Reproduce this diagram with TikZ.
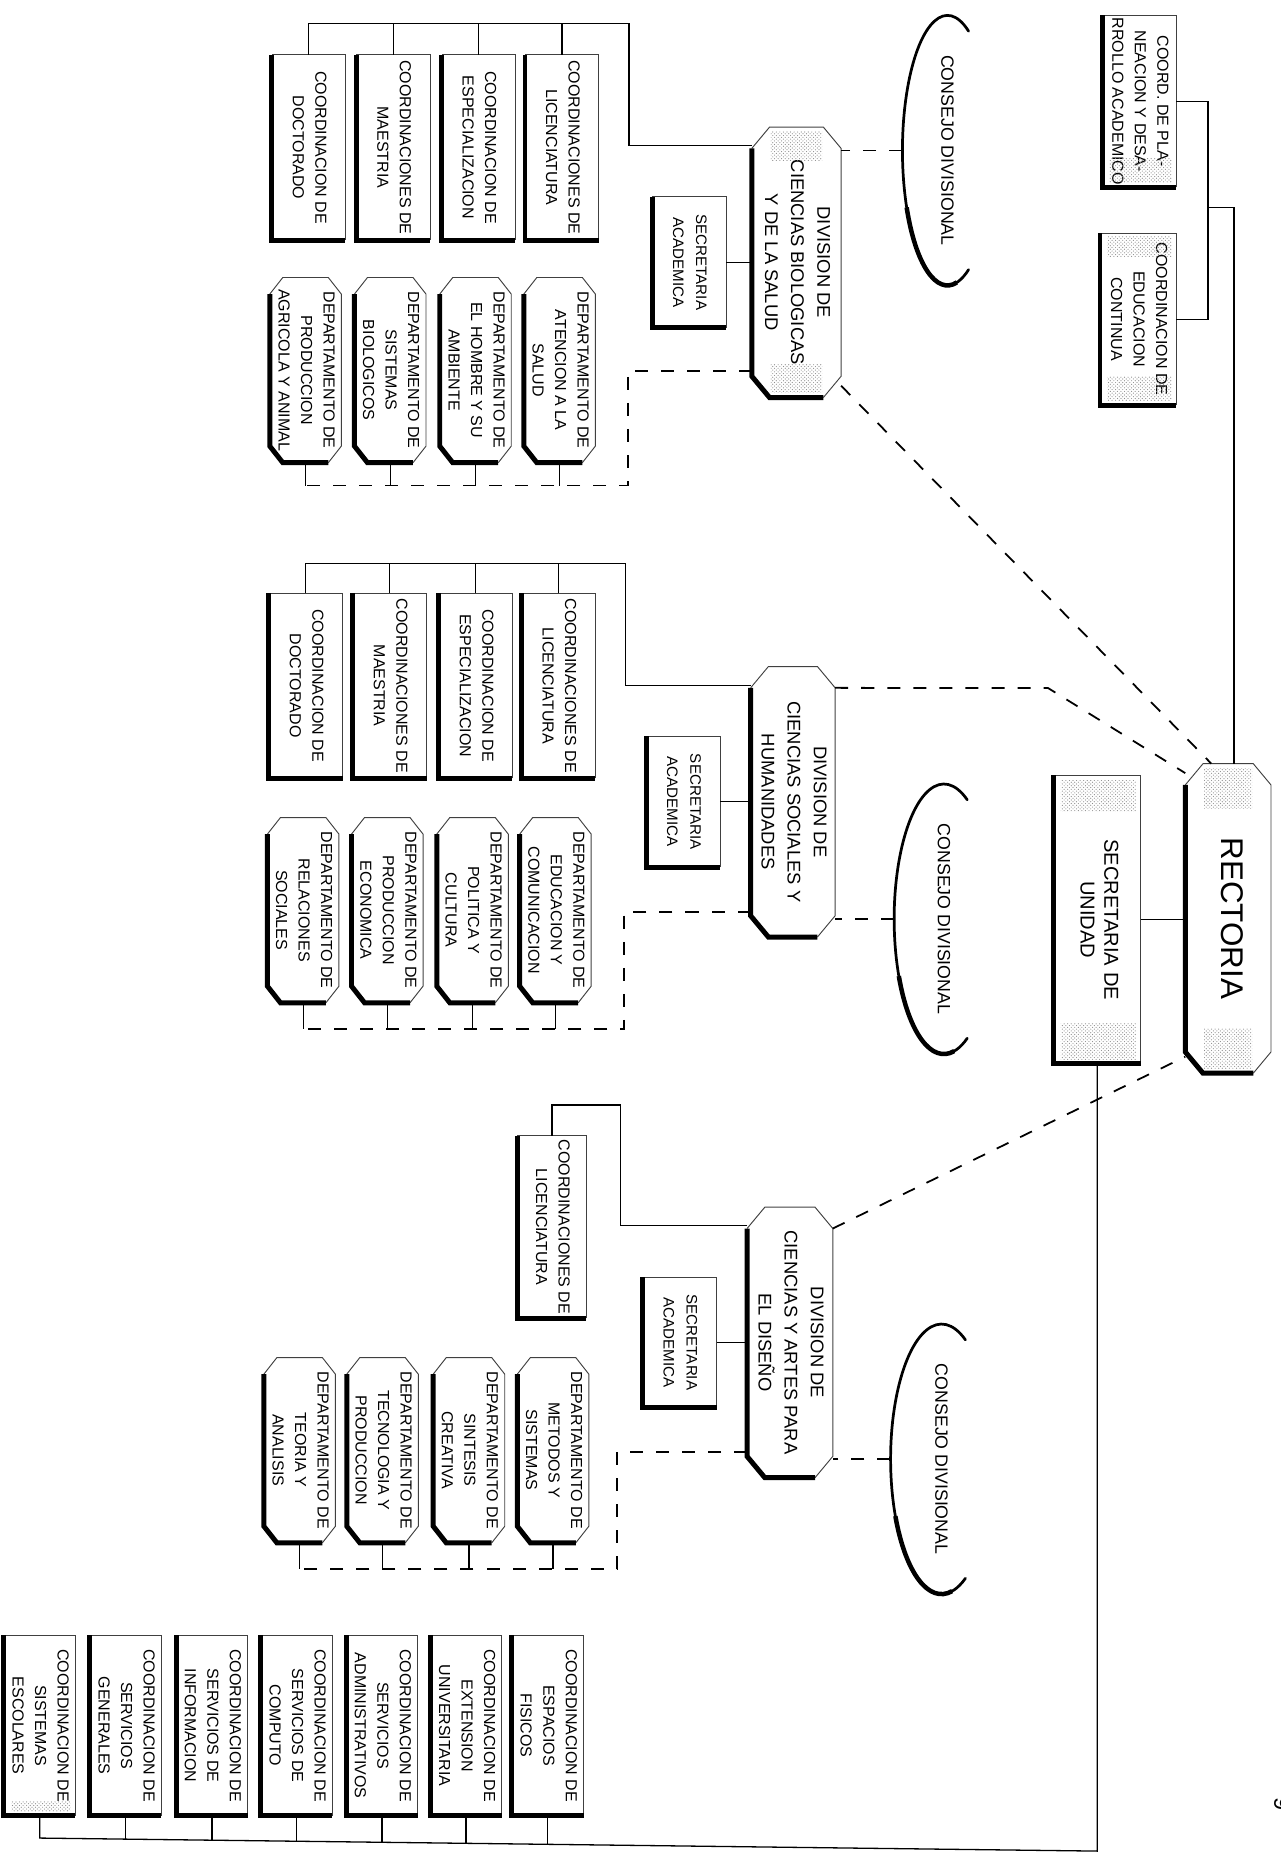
\documentclass[tikz,border=0pt]{standalone}
\usepackage{fontspec}
\setmainfont{Liberation Sans}
\usepackage{graphicx}
\usetikzlibrary{shapes.geometric,patterns}
\newcommand\rtxt[1]{\rotatebox{-90}{\begin{tabular}{@{}c@{}}#1\end{tabular}}}
\newcommand\drawcoordbox[1]{%
  \draw[thinline] (#1.south east) -- (#1.north east) -- (#1.north west);
  \draw[shadowline] (#1.north west) -- (#1.south west) -- (#1.south east);}
\newcommand\drawchambox[3]{%
  \draw[thinline] ([yshift=-#3]#1.north west) -- ([xshift=#2]#1.north west) -- ([xshift=-#2]#1.north east) -- ([yshift=-#3]#1.north east) -- ([yshift=#3]#1.south east) -- ([xshift=-#2]#1.south east);
  \draw[shadowline] ([xshift=-#2]#1.south east) -- ([xshift=#2]#1.south west) -- ([yshift=#3]#1.south west) -- ([yshift=-#3]#1.north west);}
\tikzset{
  x=1pt, y=1pt,
  box/.style={rectangle, inner sep=0pt, draw=none},
  smallbox/.style={box, minimum width=62pt, minimum height=156pt, font=\fontsize{13.5}{19}\selectfont},
  deptbox/.style={box, minimum width=60pt, minimum height=156pt, font=\fontsize{13.5}{19}\selectfont},
  divbox/.style={box, minimum width=73pt, minimum height=228pt, font=\fontsize{15.5}{22}\selectfont},
  secbox/.style={box, minimum width=62pt, minimum height=110pt, font=\fontsize{12.8}{19.5}\selectfont},
  consejo/.style={ellipse, inner sep=0pt, draw=none, font=\fontsize{15}{18}\selectfont},
  thinline/.style={line width=0.8pt, black!75},
  shadowline/.style={line width=4.2pt, line join=miter},
  conn/.style={line width=1.1pt},
  dconn/.style={line width=1.5pt, dash pattern=on 11pt off 11pt},
  consarc/.style={line width=2.3pt, line cap=round},
  speckle/.style={pattern=crosshatch dots, pattern color=black!45},
}
\begin{document}
\begin{tikzpicture}
\useasboundingbox (0,0) rectangle (1081.6,-1568);

% ---- top level ----
\node[box, minimum width=72pt, minimum height=261pt, font=\fontsize{26.5}{30}\selectfont] (rect) at (1037,-775.5) {\rtxt{RECTORIA}};
\node[box, minimum width=73pt, minimum height=243pt, font=\fontsize{17}{20}\selectfont] (secu) at (926.5,-776.5) {\rtxt{SECRETARIA DE\\UNIDAD}};
\node[smallbox, minimum height=145pt] (cpa) at (962,-85.5) {\rtxt{COORD. DE PLA-\\NEACION Y DESA-\\RROLLO ACADEMICO}};
\node[smallbox, minimum width=64pt, minimum height=145pt] (cec) at (961,-269.5) {\rtxt{COORDINACION DE\\EDUCACION\\CONTINUA}};

% ---- divisions ----
\node[divbox, minimum width=75pt] (div1) at (672.5,-221.5) {\rtxt{DIVISION DE\\CIENCIAS BIOLOGICAS\\Y DE LA SALUD}};
\node[divbox, minimum width=71pt] (div2) at (669.5,-677) {\rtxt{DIVISION DE\\CIENCIAS SOCIALES Y\\HUMANIDADES}};
\node[divbox, minimum width=72pt] (div3) at (667,-1133.5) {\rtxt{DIVISION DE\\CIENCIAS Y ARTES PARA\\EL DISEÑO}};

\node[secbox] (sa1) at (582,-221.5) {\rtxt{SECRETARIA\\ACADEMICA}};
\node[secbox] (sa2) at (577,-677) {\rtxt{SECRETARIA\\ACADEMICA}};
\node[secbox] (sa3) at (574,-1133.5) {\rtxt{SECRETARIA\\ACADEMICA}};

\node[consejo, minimum width=76pt, minimum height=230pt] (cons1) at (800,-127) {\rotatebox{-90}{CONSEJO DIVISIONAL}};
\node[consejo, minimum width=84pt, minimum height=228pt] (cons2) at (797,-776) {\rotatebox{-90}{CONSEJO DIVISIONAL}};
\node[consejo, minimum width=86pt, minimum height=228pt] (cons3) at (795,-1232) {\rotatebox{-90}{CONSEJO DIVISIONAL}};

% ---- division 1 ----
\node[smallbox] (c11) at (474.5,-124.5) {\rtxt{COORDINACIONES DE\\LICENCIATURA}};
\node[smallbox] (c12) at (404,-124.5) {\rtxt{COORDINACION DE\\ESPECIALIZACION}};
\node[smallbox] (c13) at (332,-124.5) {\rtxt{COORDINACIONES DE\\MAESTRIA}};
\node[smallbox] (c14) at (260.5,-124.5) {\rtxt{COORDINACION DE\\DOCTORADO}};
\node[deptbox] (d11) at (472.5,-312.5) {\rtxt{DEPARTAMENTO DE\\ATENCION A LA\\SALUD}};
\node[deptbox] (d12) at (401.5,-312.5) {\rtxt{DEPARTAMENTO DE\\EL HOMBRE Y SU\\AMBIENTE}};
\node[deptbox] (d13) at (329.5,-312.5) {\rtxt{DEPARTAMENTO DE\\SISTEMAS\\BIOLOGICOS}};
\node[deptbox] (d14) at (258,-312.5) {\rtxt{DEPARTAMENTO DE\\PRODUCCION\\AGRICOLA Y ANIMAL}};

% ---- division 2 ----
\node[smallbox] (c21) at (471.5,-579) {\rtxt{COORDINACIONES DE\\LICENCIATURA}};
\node[smallbox] (c22) at (401.5,-579) {\rtxt{COORDINACION DE\\ESPECIALIZACION}};
\node[smallbox] (c23) at (329,-579) {\rtxt{COORDINACIONES DE\\MAESTRIA}};
\node[smallbox] (c24) at (258,-579) {\rtxt{COORDINACION DE\\DOCTORADO}};
\node[deptbox] (d21) at (469,-768.5) {\rtxt{DEPARTAMENTO DE\\EDUCACION Y\\COMUNICACION}};
\node[deptbox] (d22) at (399,-768.5) {\rtxt{DEPARTAMENTO DE\\POLITICA Y\\CULTURA}};
\node[deptbox] (d23) at (327,-768.5) {\rtxt{DEPARTAMENTO DE\\PRODUCCION\\ECONOMICA}};
\node[deptbox] (d24) at (256,-768.5) {\rtxt{DEPARTAMENTO DE\\RELACIONES\\SOCIALES}};

% ---- division 3 ----
\node[smallbox, minimum width=58pt, minimum height=154pt] (c31) at (466,-1036) {\rtxt{COORDINACIONES DE\\LICENCIATURA}};
\node[deptbox] (d31) at (467,-1224.5) {\rtxt{DEPARTAMENTO DE\\METODOS Y\\SISTEMAS}};
\node[deptbox] (d32) at (396,-1224.5) {\rtxt{DEPARTAMENTO DE\\SINTESIS\\CREATIVA}};
\node[deptbox] (d33) at (323,-1224.5) {\rtxt{DEPARTAMENTO DE\\TECNOLOGIA Y\\PRODUCCION}};
\node[deptbox] (d34) at (253,-1224.5) {\rtxt{DEPARTAMENTO DE\\TEORIA Y\\ANALISIS}};

% ---- unit coordinations (bottom) ----
\node[smallbox, minimum width=60pt, minimum height=152pt] (bc1) at (462.5,-1457) {\rtxt{COORDINACION DE\\ESPACIOS\\FISICOS}};
\node[smallbox, minimum width=60pt, minimum height=152pt] (bc2) at (393.5,-1457) {\rtxt{COORDINACION DE\\EXTENSION\\UNIVERSITARIA}};
\node[smallbox, minimum width=60pt, minimum height=152pt] (bc3) at (322.5,-1457) {\rtxt{COORDINACION DE\\SERVICIOS\\ADMINISTRATIVOS}};
\node[smallbox, minimum width=60pt, minimum height=152pt] (bc4) at (250.5,-1457) {\rtxt{COORDINACION DE\\SERVICIOS DE\\COMPUTO}};
\node[smallbox, minimum width=60pt, minimum height=152pt] (bc5) at (179,-1457) {\rtxt{COORDINACION DE\\SERVICIOS DE\\INFORMACION}};
\node[smallbox, minimum width=60pt, minimum height=152pt] (bc6) at (106,-1457) {\rtxt{COORDINACION DE\\SERVICIOS\\GENERALES}};
\node[smallbox, minimum width=60pt, minimum height=152pt] (bc7) at (33.5,-1457) {\rtxt{COORDINACION DE\\SISTEMAS\\ESCOLARES}};

\node[box, font=\fontsize{20}{22}\selectfont] (pg) at (1083,-1523) {\rotatebox{-90}{9}};

% ---- halftone speckle at box ends ----
\foreach \n/\h in {secu/-30pt}
  \fill[speckle] ([xshift=6pt,yshift=-4pt]\n.north west) rectangle ([xshift=-4pt,yshift=\h]\n.north east);
\foreach \n/\h in {rect/-38pt, div1/-28pt}
  \fill[speckle] ([xshift=16pt,yshift=-4pt]\n.north west) rectangle ([xshift=-16pt,yshift=\h]\n.north east);
\foreach \n/\h in {secu/34pt, cpa/24pt, cec/24pt, bc7/12pt}
  \fill[speckle] ([xshift=6pt,yshift=4pt]\n.south west) rectangle ([xshift=-4pt,yshift=\h]\n.south east);
\foreach \n/\h in {rect/38pt, div1/28pt}
  \fill[speckle] ([xshift=16pt,yshift=4pt]\n.south west) rectangle ([xshift=-16pt,yshift=\h]\n.south east);
\fill[speckle] ([xshift=6pt,yshift=-3pt]cec.north west) rectangle ([xshift=-4pt,yshift=-20pt]cec.north east);

% ---- box outlines ----
\foreach \n in {secu,cpa,cec,sa1,sa2,sa3,c11,c12,c13,c14,c21,c22,c23,c24,c31,bc1,bc2,bc3,bc4,bc5,bc6,bc7}
  {\drawcoordbox{\n}}
\foreach \n in {d11,d12,d13,d14,d21,d22,d23,d24,d31,d32,d33,d34}
  {\drawchambox{\n}{11pt}{14pt}}
\foreach \n in {div1,div2,div3,rect}
  {\drawchambox{\n}{15pt}{18pt}}

% consejo arcs
\foreach \n/\rx in {cons1/38,cons2/42,cons3/43} {
  \draw[consarc] (\n.center) ++(62:\rx pt and 114pt) arc[start angle=62, end angle=298, x radius=\rx pt, y radius=114pt];
  \draw[line width=3.8pt] (\n.center) ++(205:\rx pt and 114pt) arc[start angle=205, end angle=282, x radius=\rx pt, y radius=114pt];
}

% ---- connectors: rectoria ----
\coordinate (bx) at (1020,-175);
\coordinate (rx) at (1042,-175);
\draw[conn] (cpa.east) -- (cpa.east -| bx) -- (cec.east -| bx) -- (cec.east);
\draw[conn] (bx) -- (rx) -- (rect.north -| rx);
\draw[conn] (secu.east) -- (secu.east -| rect.west);
\coordinate (sp1) at (926.5,-1563);
\coordinate (sp7) at (33.5,-1552);
\draw[conn] (secu.south) -- (secu.south |- sp1) -- (bc7.south |- sp7) -- (bc7.south);
\draw[conn] (bc1.south) -- ++(0,-24.3);
\draw[conn] (bc2.south) -- ++(0,-23.4);
\draw[conn] (bc3.south) -- ++(0,-22.6);
\draw[conn] (bc4.south) -- ++(0,-21.7);
\draw[conn] (bc5.south) -- ++(0,-20.8);
\draw[conn] (bc6.south) -- ++(0,-19.9);

% divisions to rectoria (dashed)
\coordinate (b2) at (885,-581);
\draw[dconn] ([yshift=10pt]div1.south east) -- ([xshift=22pt]rect.north west);
\draw[dconn] ([yshift=-18pt]div2.north east) -- (b2) -- ([yshift=-8pt]rect.north west);
\draw[dconn] ([yshift=-18pt]div3.north east) -- ([yshift=14pt]rect.south west);

% divisions to consejos (dashed)
\draw[dconn] (cons1.west) -- (cons1.west -| div1.east);
\draw[dconn] (cons2.west) -- (cons2.west -| div2.east);
\draw[dconn] (cons3.west) -- (cons3.west -| div3.east);

% divisions to secretarias academicas
\draw[conn] (sa1.east) -- (sa1.east -| div1.west);
\draw[conn] (sa2.east) -- (sa2.east -| div2.west);
\draw[conn] (sa3.east) -- (sa3.east -| div3.west);

% division 1 buses
\coordinate (t1a) at (531,-123);
\coordinate (t1b) at (531,-20);
\draw[conn] (div1.west |- t1a) -- (t1a) -- (t1b) -- (c14.north |- t1b) -- (c14.north);
\foreach \n in {c11,c12,c13} \draw[conn] (\n.north) -- (\n.north |- t1b);
\coordinate (u1a) at (530,-313);
\coordinate (u1b) at (530,-410);
\draw[dconn] (div1.west |- u1a) -- (u1a) -- (u1b) -- (d14.south |- u1b);
\foreach \n in {d11,d12,d13,d14} \draw[conn] (\n.south) -- (\n.south |- u1b);

% division 2 buses
\coordinate (t2a) at (528,-579);
\coordinate (t2b) at (528,-476);
\draw[conn] (div2.west |- t2a) -- (t2a) -- (t2b) -- (c24.north |- t2b) -- (c24.north);
\foreach \n in {c21,c22,c23} \draw[conn] (\n.north) -- (\n.north |- t2b);
\coordinate (u2a) at (527,-770);
\coordinate (u2b) at (527,-869);
\draw[dconn] (div2.west |- u2a) -- (u2a) -- (u2b) -- (d24.south |- u2b);
\foreach \n in {d21,d22,d23,d24} \draw[conn] (\n.south) -- (\n.south |- u2b);

% division 3 buses
\coordinate (t3a) at (524,-1035);
\coordinate (t3b) at (524,-933);
\draw[conn] (div3.west |- t3a) -- (t3a) -- (t3b) -- (c31.north |- t3b) -- (c31.north);
\coordinate (u3a) at (521,-1226);
\coordinate (u3b) at (521,-1325);
\draw[dconn] (div3.west |- u3a) -- (u3a) -- (u3b) -- (d34.south |- u3b);
\foreach \n in {d31,d32,d33,d34} \draw[conn] (\n.south) -- (\n.south |- u3b);
\end{tikzpicture}
\end{document}
